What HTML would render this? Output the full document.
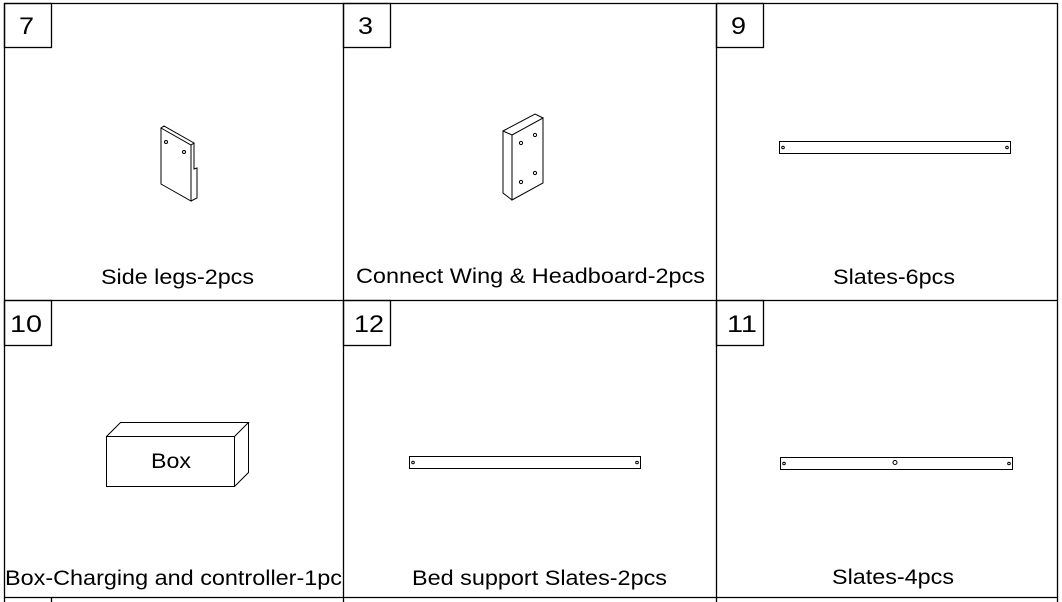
<!DOCTYPE html>
<html><head><style>
html,body{margin:0;padding:0;background:#fff;}
svg{display:block;}
text{font-family:"Liberation Sans",Arial,sans-serif;fill:#000;}
</style></head><body>
<svg width="1062" height="602" viewBox="0 0 1062 602" xmlns="http://www.w3.org/2000/svg">
<g stroke="#000" stroke-width="1.3" fill="none">
<line x1="4" y1="3.5" x2="1058" y2="3.5"/>
<line x1="4" y1="300.5" x2="1058" y2="300.5"/>
<line x1="4" y1="597.5" x2="1058" y2="597.5"/>
<line x1="4.5" y1="3" x2="4.5" y2="602"/>
<line x1="343.5" y1="3" x2="343.5" y2="602"/>
<line x1="716.5" y1="3" x2="716.5" y2="602"/>
<line x1="1057.5" y1="3" x2="1057.5" y2="602"/>
<line x1="51.5" y1="597" x2="51.5" y2="602"/>
<rect x="4.5" y="3.5" width="47" height="44"/>
<rect x="343.5" y="3.5" width="47" height="44"/>
<rect x="716.5" y="3.5" width="47" height="44"/>
<rect x="4.5" y="300.5" width="47" height="45"/>
<rect x="343.5" y="300.5" width="47" height="45"/>
<rect x="716.5" y="300.5" width="47" height="45"/>
</g>
<g stroke="#000" stroke-width="1" fill="none">
<polygon points="161,128 164,126 194,143 191,145"/>
<polyline points="161,128 161,184 191,201 191,145"/>
<polyline points="194,143 194,169 197,168 197,198 191,201"/>
<circle cx="166" cy="142" r="1.5"/>
<circle cx="184" cy="152" r="1.5"/>
<polygon points="512,135 543,118 543,183 512,200"/>
<polyline points="512,135 503,131 503,193 512,200"/>
<polyline points="503,131 535,114 543,118"/>
<circle cx="521" cy="143" r="1.6"/>
<circle cx="535" cy="135" r="1.6"/>
<circle cx="521" cy="182" r="1.6"/>
<circle cx="535" cy="173" r="1.6"/>
<rect x="779.5" y="141.5" width="231" height="12"/>
<circle cx="783" cy="147.5" r="1.3"/><circle cx="1007" cy="147.5" r="1.3"/>
<rect x="409.5" y="456.5" width="231" height="12"/>
<circle cx="413" cy="462.5" r="1.3"/><circle cx="637" cy="462.5" r="1.3"/>
<rect x="780.5" y="457.5" width="232" height="12"/>
<circle cx="784" cy="463.5" r="1.3"/><circle cx="1009" cy="463.5" r="1.3"/>
<circle cx="895" cy="462.5" r="2"/>
<rect x="106.5" y="436.5" width="128" height="50"/>
<polyline points="106.5,436.5 120.5,422.5 248.5,422.5 234.5,436.5"/>
<polyline points="248.5,422.5 248.5,472.5 234.5,486.5"/>
</g>
<g font-size="24">
<text x="19" y="34" textLength="15" lengthAdjust="spacingAndGlyphs">7</text>
<text x="358" y="34" textLength="15" lengthAdjust="spacingAndGlyphs">3</text>
<text x="731" y="34" textLength="15" lengthAdjust="spacingAndGlyphs">9</text>
<text x="10" y="332" textLength="32" lengthAdjust="spacingAndGlyphs">10</text>
<text x="354" y="332" textLength="30" lengthAdjust="spacingAndGlyphs">12</text>
<text x="727" y="332" textLength="30" lengthAdjust="spacingAndGlyphs">11</text>
</g>
<g font-size="21">
<text x="101" y="284" textLength="153" lengthAdjust="spacingAndGlyphs">Side legs-2pcs</text>
<text x="356" y="283" textLength="349" lengthAdjust="spacingAndGlyphs">Connect Wing &amp; Headboard-2pcs</text>
<text x="833" y="284" textLength="122" lengthAdjust="spacingAndGlyphs">Slates-6pcs</text>
<text x="151" y="468" textLength="40" lengthAdjust="spacingAndGlyphs">Box</text>
<text x="5" y="585" textLength="337" lengthAdjust="spacingAndGlyphs">Box-Charging and controller-1pc</text>
<text x="412" y="585" textLength="255" lengthAdjust="spacingAndGlyphs">Bed support Slates-2pcs</text>
<text x="832" y="584" textLength="122" lengthAdjust="spacingAndGlyphs">Slates-4pcs</text>
</g>
</svg>
</body></html>
